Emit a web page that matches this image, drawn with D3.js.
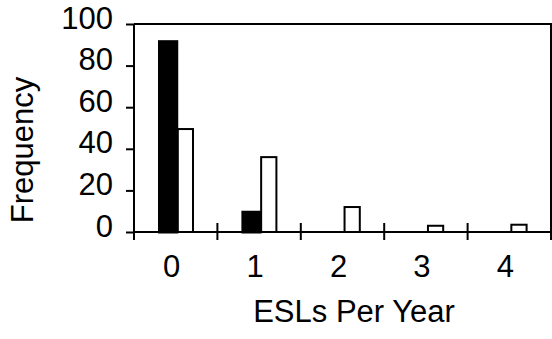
<!DOCTYPE html>
<html>
<head>
<meta charset="utf-8">
<script src="https://cdn.jsdelivr.net/npm/d3@7"></script>
<style>
  body { margin: 0; background: #fff; }
  text { font-family: "Liberation Sans", Arial, sans-serif; fill: #000; }
</style>
</head>
<body>
<script>
// data
const categories = ["0", "1", "2", "3", "4"];
const seriesA = [91.5, 9.5, 0, 0, 0];     // filled bars
const seriesB = [49.5, 36, 12, 3, 3.5];   // open bars
const yTicks = [0, 20, 40, 60, 80, 100];

const width = 552, height = 339;
const margin = {left: 134, right: 1, top: 24, bottom: 107};
const fontSize = "31px";

const svg = d3.select("body").append("svg")
    .attr("width", width)
    .attr("height", height);

const x = d3.scaleBand()
    .domain(categories)
    .range([margin.left, width - margin.right])
    .paddingInner(0)
    .paddingOuter(0);

// two bars in each band
const sub = d3.scaleBand()
    .domain(["a", "b"])
    .range([25.5, 60]);

const y = d3.scaleLinear()
    .domain([0, 100])
    .range([height - margin.bottom, margin.top]);

// open bars first, filled bars drawn on top
svg.selectAll(".barB")
    .data(seriesB)
    .enter()
    .append("rect")
    .attr("class", "barB")
    .attr("x", (d, i) => x(categories[i]) + sub("b") + 1)
    .attr("width", sub.bandwidth() - 2)
    .attr("y", d => y(d))
    .attr("height", d => y(0) - y(d))
    .attr("fill", "#fff")
    .attr("stroke", "#000")
    .attr("stroke-width", 2);

svg.selectAll(".barA")
    .data(seriesA.filter(d => d > 0))
    .enter()
    .append("rect")
    .attr("class", "barA")
    .attr("x", (d, i) => x(categories[i]) + sub("a"))
    .attr("width", sub.bandwidth())
    .attr("y", d => y(d))
    .attr("height", d => y(0) - y(d))
    .attr("fill", "#000")
    .attr("stroke", "#000")
    .attr("stroke-width", 3);

// frame: top and right
svg.append("path")
    .attr("d", `M${margin.left},${y(100)}H${width - margin.right}V${y(0)}`)
    .attr("fill", "none")
    .attr("stroke", "#000")
    .attr("stroke-width", 2);

// y axis
const yAxis = svg.append("g")
    .attr("transform", `translate(${margin.left},0)`)
    .call(d3.axisLeft(y).tickValues(yTicks).tickSize(8).tickPadding(13).tickSizeOuter(0));
yAxis.select(".domain").attr("stroke-width", 2).attr("d", `M0,${y(100)}V${y(0) + 8}`);
yAxis.selectAll(".tick line").attr("stroke-width", 2);
// labels sit a little above their ticks
yAxis.selectAll(".tick text")
    .attr("dy", "4px")
    .style("font-size", fontSize)
    .attr("fill", "#000");

// x axis: ticks between categories, crossing the axis line
const xAxisG = svg.append("g");
xAxisG.append("line")
    .attr("x1", margin.left).attr("x2", width - margin.right)
    .attr("y1", y(0)).attr("y2", y(0))
    .attr("stroke", "#000").attr("stroke-width", 2);
const boundaries = categories.map(c => x(c)).concat([x(categories[categories.length - 1]) + x.bandwidth()]);
xAxisG.selectAll(".xt")
    .data(boundaries.slice(1))
    .enter()
    .append("line")
    .attr("x1", d => d).attr("x2", d => d)
    .attr("y1", y(0) - 9).attr("y2", y(0) + 8)
    .attr("stroke", "#000").attr("stroke-width", 2);
xAxisG.selectAll(".xl")
    .data(categories)
    .enter()
    .append("text")
    .attr("x", d => x(d) + x.bandwidth() / 2 - 4)
    .attr("y", 277)
    .attr("text-anchor", "middle")
    .style("font-size", fontSize)
    .text(d => d);

// axis titles
svg.append("text")
    .attr("x", 354)
    .attr("y", 322)
    .attr("text-anchor", "middle")
    .style("font-size", fontSize)
    .text("ESLs Per Year");

svg.append("text")
    .attr("transform", "translate(33,150) rotate(-90)")
    .attr("text-anchor", "middle")
    .style("font-size", fontSize)
    .text("Frequency");
</script>
</body>
</html>
